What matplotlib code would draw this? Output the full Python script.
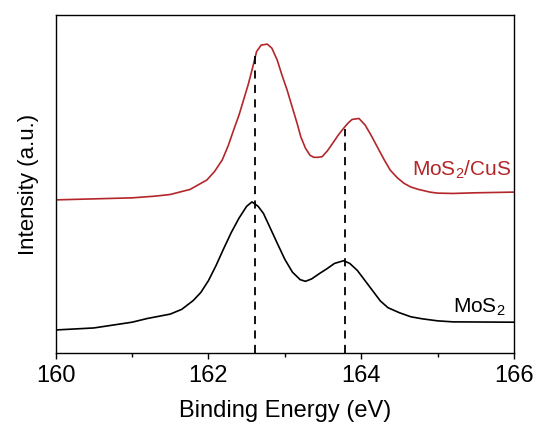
import numpy as np
import matplotlib
matplotlib.use('Agg')
import matplotlib.pyplot as plt

plt.rcParams['font.family'] = ['Liberation Sans', 'DejaVu Sans']
plt.rcParams['mathtext.fontset'] = 'custom'
plt.rcParams['mathtext.rm'] = 'Liberation Sans'
plt.rcParams['mathtext.it'] = 'Liberation Sans'

# MoS2/CuS spectrum (arbitrary units)
energy_cus = [160.0, 160.5, 161.0, 161.3, 161.5, 161.76, 161.98, 162.08, 162.18, 162.26,
              162.33, 162.4, 162.46, 162.52, 162.57, 162.63, 162.69, 162.77, 162.83, 162.9,
              162.96, 163.03, 163.1, 163.16, 163.21, 163.27, 163.33, 163.38, 163.44, 163.49,
              163.56, 163.64, 163.7, 163.77, 163.83, 163.88, 163.97, 164.05, 164.13, 164.21,
              164.3, 164.38, 164.47, 164.56, 164.65, 164.75, 164.9, 165.0, 165.2, 165.5,
              166.0]
int_cus = [45.4, 45.7, 46.0, 46.5, 47.0, 48.5, 51.3, 53.8, 57.2, 61.5,
           66.1, 70.5, 75.0, 79.5, 83.8, 89.3, 91.2, 91.5, 90.3, 86.8,
           82.5, 77.9, 72.6, 68.1, 64.0, 60.7, 58.6, 58.0, 58.0, 58.2,
           60.0, 62.6, 64.6, 66.6, 68.2, 69.2, 69.5, 67.6, 64.5, 61.1,
           57.3, 54.2, 52.0, 50.3, 49.2, 48.5, 47.7, 47.4, 47.3, 47.5,
           47.7]

# MoS2 spectrum
energy_mos = [160.0, 160.5, 161.0, 161.2, 161.5, 161.65, 161.8, 161.9, 162.0, 162.1,
              162.2, 162.3, 162.4, 162.5, 162.57, 162.65, 162.72, 162.8, 162.9, 163.0,
              163.1, 163.2, 163.27, 163.35, 163.46, 163.55, 163.65, 163.77, 163.85, 163.95,
              164.05, 164.15, 164.25, 164.35, 164.5, 164.65, 164.8, 165.0, 165.2, 166.0]
int_mos = [6.9, 7.5, 9.2, 10.3, 11.6, 13.0, 15.6, 18.0, 21.5, 26.0,
           31.0, 35.8, 40.0, 43.5, 44.8, 43.5, 41.4, 37.5, 32.6, 27.8,
           24.0, 21.8, 21.3, 22.0, 23.7, 25.0, 26.6, 27.4, 26.6, 24.5,
           21.5, 18.5, 15.5, 13.5, 12.0, 10.8, 10.2, 9.6, 9.3, 9.2]

# peak guide lines: position and top end
peak_pos = [162.61, 163.79]
peak_top = [88.0, 66.5]

red = '#B3262A'

fig = plt.figure(figsize=(5.39, 4.30), dpi=100)
ax = fig.add_axes([0.1033, 0.1784, 0.8503, 0.7858])

ax.plot(energy_cus, int_cus, color=red, lw=1.2, solid_joinstyle='round')
ax.plot(energy_mos, int_mos, color='black', lw=1.2, solid_joinstyle='round')
for p, t in zip(peak_pos, peak_top):
    ax.plot([p, p], [0, t], color='black', lw=1.3, ls=(0, (4.5, 3.5)))

ax.text(165.97, 54.2, 'MoS$_2$/CuS', color=red, fontsize=15, ha='right', va='center')
ax.text(165.89, 13.6, 'MoS$_2$', color='black', fontsize=15, ha='right', va='center')

ax.set_xlim(160, 166)
ax.set_ylim(0, 100)
ax.set_xticks([160, 162, 164, 166])
ax.set_xticks([161, 163, 165], minor=True)
ax.set_yticks([])
ax.tick_params(axis='x', which='major', direction='out', length=4.5, width=1, labelsize=17, pad=4)
ax.tick_params(axis='x', which='minor', direction='out', length=3, width=1)
for s in ax.spines.values():
    s.set_linewidth(1)

ax.set_xlabel('Binding Energy (eV)', fontsize=17, labelpad=9)
ax.set_ylabel('Intensity (a.u.)', fontsize=16, labelpad=12)

fig.savefig('out.png', dpi=100)
